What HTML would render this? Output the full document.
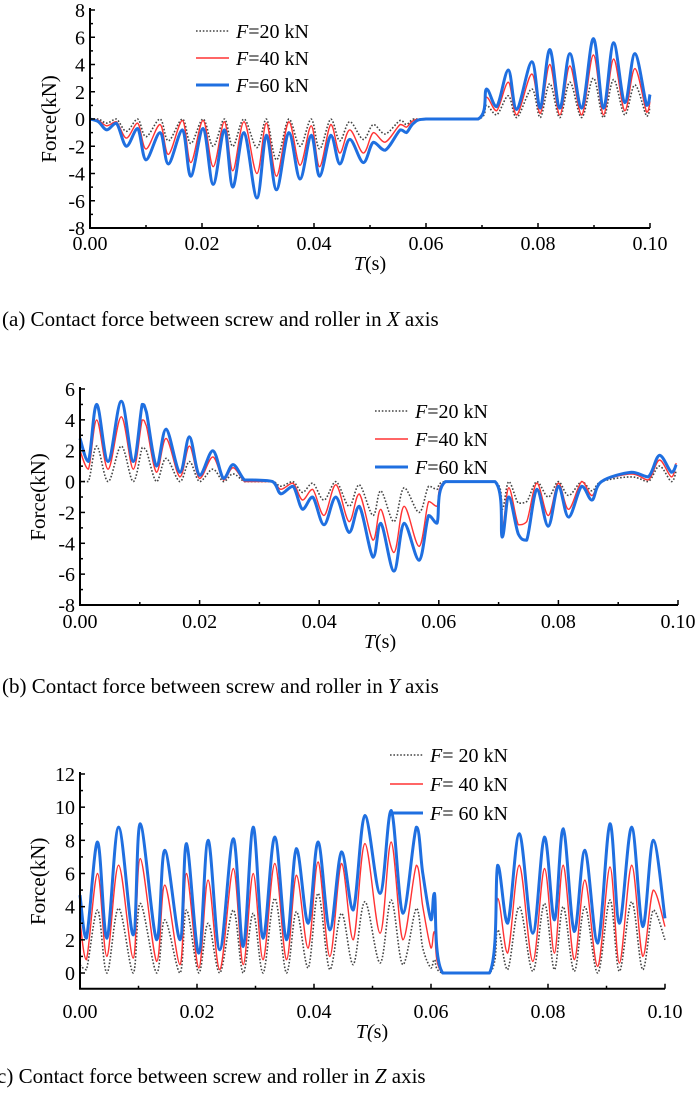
<!DOCTYPE html>
<html><head><meta charset="utf-8"><style>
html,body{margin:0;padding:0;background:#fff;}
svg{display:block;font-family:"Liberation Serif",serif;}
</style></head><body>
<svg id="fig" width="700" height="1103" viewBox="0 0 700 1103" xmlns="http://www.w3.org/2000/svg"></svg>
<script>
// ---- Panel (a) data: time in ms, force in kN ----
const tA = [0,1.5,3,4.7,6.5,8.5,10,12.5,14,16.5,18,20.2,22,24,25.5,27.5,29.8,31.5,33.3,35.5,37.5,39.5,41,43,44.6,46.4,48.8,50.6,52.7,55.4,56.5,57.8,60,69.3,70.8,72.6,74.7,76.2,78.9,80.4,82.1,83.9,85.7,87.8,89.9,91.7,93.5,95.5,97.3,99.4,100];
const a60 = [0,-0.2,-0.8,-0.3,-2,-0.7,-3,-1,-3.3,-0.8,-4.2,-0.7,-4.8,-0.8,-5,-1,-5.8,-1.2,-5.2,-1,-4.4,-1.2,-4.2,-1.2,-3.3,-1.5,-3.2,-1.7,-2.3,-0.8,-1.0,-0.3,0,0,2.2,0.9,3.6,0.7,4.2,0.8,5.1,0.8,4.8,0.8,5.9,0.8,5.6,1.2,4.8,1.0,1.8];
const a40 = [0,-0.1,-0.5,-0.2,-1.4,-0.3,-2.2,-0.4,-2.6,-0.1,-3.2,-0.1,-3.5,-0.2,-3.8,-0.2,-4.0,-0.3,-4.2,-0.2,-3.4,-0.5,-3.5,-0.4,-2.5,-0.8,-2.5,-1.0,-1.7,-0.4,-0.6,-0.1,0,0,1.6,0.6,2.7,0.3,3.3,0.4,4.0,0.3,3.9,0.3,4.7,0.3,4.4,0.6,3.7,0.5,1.3];
const a20 = [0,0,-0.3,0,-0.9,0,-1.3,0,-1.6,0,-1.8,0,-2.0,0,-2.0,0,-2.1,0,-3.0,0,-2.0,0,-2.2,0,-1.6,-0.2,-1.5,-0.4,-1.1,-0.1,-0.4,0,0,0,1.0,0.3,1.7,0.1,2.2,0.1,2.6,0.1,2.7,0.1,3.0,0.1,2.9,0.3,2.5,0.2,0.9];
// ---- Panel (b) data ----
const tB = [0,1.4,2.8,4.7,6.9,8.9,10.4,11.1,12.8,14.4,16.7,18.3,20,22.2,24,25.6,27.5,28.9,32.2,33.6,35.6,37.2,38.9,40.8,42.8,45,46.7,49,50.3,52.5,54.2,56.7,58.3,59.7,61.1,69.4,70.6,71.7,73.3,74.7,76.4,78.3,80,81.7,83.9,85.6,87.2,92.2,95,96.9,98.9,99.7];
const b60 = [2.8,1.3,5.0,1.3,5.2,1.3,5.0,4.5,1.0,3.4,0.6,2.9,0.4,2.0,0.2,1.1,0.1,0.1,0,-0.8,-0.3,-1.8,-1.0,-2.8,-1.0,-3.3,-1.6,-4.9,-2.7,-5.8,-2.7,-5.1,-2.2,-2.7,0,0,-3.6,-1.0,-3.4,-3.8,-0.5,-2.9,-0.3,-2.3,-0.3,-1.2,0,0.6,0.3,1.7,0.6,1.1];
const b40 = [2.0,0.8,4.0,0.8,4.2,0.8,4.0,3.6,0.6,2.8,0.3,2.3,0.2,1.6,0.1,0.9,0,0,0,-0.5,-0.1,-1.2,-0.5,-2.2,-0.2,-2.6,-0.8,-3.8,-1.8,-4.6,-1.6,-4.2,-1.3,-1.6,0,0,-3.0,-0.4,-2.8,-2.6,-0.1,-2.2,-0.1,-1.8,0,-0.9,0,0.5,0.1,1.4,0.3,1.2];
const b20 = [0,0,2.3,0,2.3,0,2.2,2.0,0,1.5,0,1.3,0,0.8,0,0.5,0,0,0,-0.3,0,-0.7,-0.1,-1.2,0,-1.6,-0.2,-2.2,-0.6,-2.6,-0.4,-2.0,-0.3,-0.5,0,0,-1.8,0,-1.4,-1.3,0,-1.0,0,-0.9,0,-0.6,0,0.3,0,1.0,0,0.7];
// ---- Panel (c) data ----
const tC = [0,1.1,3,4.6,6.6,9.1,10.3,13.1,14.5,17.1,18.2,20.3,21.9,23.9,26.2,27.9,29.6,31.3,33.3,35.3,37,39,40.7,42.7,44.7,46.7,48.7,51.3,53.2,55.2,57.5,58.6,60,60.6,62,70,71.4,73.1,75.1,77.4,79.4,81.1,82.6,84.5,86.3,88.5,90.6,92.2,94.3,96.2,98,100];
const c60 = [4.7,2.1,7.9,2.1,8.8,2.3,9.0,2.0,7.4,2.0,7.8,1.2,8.0,1.4,8.1,1.6,8.8,2.1,8.2,2.0,7.5,3.0,7.9,2.6,7.3,3.8,9.5,4.8,9.8,3.6,8.8,6.0,3.2,4.8,0,0,6.5,3.0,8.4,2.4,8.2,3.2,8.7,2.5,7.4,1.8,9.0,3.0,8.8,2.8,8.0,3.3];
const c40 = [3.1,0.8,6.0,1.0,6.5,0.9,6.9,0.7,5.3,0.5,6.0,0.3,5.6,0.2,6.3,0.5,6.0,0.8,6.6,0.8,5.9,1.5,6.7,1.0,6.6,2.0,7.8,2.4,7.9,2.0,6.5,4.0,1.5,2.5,0,0,4.5,1.2,6.5,0.7,6.3,1.2,6.5,0.8,5.6,0.4,6.4,0.6,6.5,1.0,5.0,2.8];
const c20 = [0.5,0.2,3.8,0,3.9,0,4.2,0,3.2,0,3.8,0,3.0,0,3.8,0,3.6,0,4.5,0,3.7,0.3,4.8,0.2,3.6,0.5,4.3,0.6,4.4,0.5,3.9,1.5,0.3,0.8,0,0,2.6,0.2,4.0,0.1,4.2,0.2,4.0,0.1,4.0,0,4.4,0.1,4.3,0.2,3.8,2.0];
const xTicks = ["0.00","0.02","0.04","0.06","0.08","0.10"];
const yTicksA = [8,6,4,2,0,-2,-4,-6,-8];
const yTicksB = [6,4,2,0,-2,-4,-6,-8];
const yTicksC = [12,10,8,6,4,2,0];
const legendA = ["=20 kN","=40 kN","=60 kN"];
const legendC = ["= 20 kN","= 40 kN","= 60 kN"];

const NS="http://www.w3.org/2000/svg";
const svg=document.getElementById('fig');
function mk(tag,attrs,parent){const e=document.createElementNS(NS,tag);for(const k in attrs)e.setAttribute(k,attrs[k]);(parent||svg).appendChild(e);return e;}

function clamp(v,a,b){const lo=Math.min(a,b),hi=Math.max(a,b);return Math.max(lo,Math.min(hi,v));}
// smooth path without overshoot (control points clamped to segment range)
function smoothPath(px,py){
  let d='M'+px[0].toFixed(1)+','+py[0].toFixed(1);
  const n=px.length, k=0.17;
  for(let i=0;i<n-1;i++){
    const x0=px[Math.max(i-1,0)],y0=py[Math.max(i-1,0)];
    const x1=px[i],y1=py[i],x2=px[i+1],y2=py[i+1];
    const x3=px[Math.min(i+2,n-1)],y3=py[Math.min(i+2,n-1)];
    const c1x=x1+(x2-x0)*k, c1y=clamp(y1+(y2-y0)*k,y1,y2);
    const c2x=x2-(x3-x1)*k, c2y=clamp(y2-(y3-y1)*k,y1,y2);
    d+=' C'+c1x.toFixed(1)+','+c1y.toFixed(1)+' '+c2x.toFixed(1)+','+c2y.toFixed(1)+' '+x2.toFixed(1)+','+y2.toFixed(1);
  }
  return d;
}

function panel(P){
  const g=mk('g',{});
  
  
  const xs=t=>P.x0+(t/100)*(P.x1-P.x0);
  const ys=v=>P.yTop+(P.yMax-v)*(P.yBot-P.yTop)/(P.yMax-P.yMin);
  const yAxisBottom=ys(P.axisMin);
  const styles=[
    {d:P.s20,stroke:'#444',w:1.6,dash:'1.6 1.8',n:'series-f20'},
    {d:P.s40,stroke:'#ff3333',w:1.4,dash:null,n:'series-f40'},
    {d:P.s60,stroke:'#1f6fe0',w:3,dash:null,n:'series-f60'}];
  styles.forEach(s=>{
    const pth=mk('path',{d:smoothPath(P.t.map(xs),s.d.map(ys)),fill:'none',stroke:s.stroke,'stroke-width':s.w,'stroke-linejoin':'round'},g);
    if(s.dash)pth.setAttribute('stroke-dasharray',s.dash);
    
    
  });
  const ya=mk('line',{x1:P.x0,y1:P.yTop-2,x2:P.x0,y2:yAxisBottom,stroke:'#000','stroke-width':2},g);
  
  
  const xa=mk('line',{x1:P.x0-1,y1:yAxisBottom,x2:P.x1,y2:yAxisBottom,stroke:'#000','stroke-width':2},g);
  
  
  for(let v=P.yMin;v<=P.yMax;v++){
    const major=(v%2===0);
    mk('line',{x1:P.x0,y1:ys(v),x2:P.x0+(major?5:3),y2:ys(v),stroke:'#000','stroke-width':1.5},g);
  }
  P.yTicks.forEach(v=>{
    const tx=mk('text',{x:P.x0-5,y:ys(v)+7,'text-anchor':'end','font-size':20,fill:'#000'},g);
    tx.textContent=v;
    
    
  });
  for(let i=0;i<=10;i++){
    const x=xs(i*10);
    mk('line',{x1:x,y1:yAxisBottom,x2:x,y2:yAxisBottom-(i%2===0?5:3),stroke:'#000','stroke-width':1.5},g);
  }
  xTicks.forEach((lab,i)=>{
    const tx=mk('text',{x:xs(i*20),y:P.xLabY,'text-anchor':'middle','font-size':20,fill:'#000'},g);
    tx.textContent=lab;
    
    
  });
  const xt=mk('text',{x:P.xTitleX,y:P.xTitleY,'text-anchor':'middle','font-size':20,fill:'#000'},g);
  xt.innerHTML='<tspan font-style="italic">T</tspan>'+P.tSuffix;
  
  
  const yt=mk('text',{x:P.yTitleX,y:(P.yTop+yAxisBottom)/2,'text-anchor':'middle','font-size':21,fill:'#000',transform:`rotate(-90 ${P.yTitleX} ${(P.yTop+yAxisBottom)/2})`},g);
  yt.textContent='Force(kN)';
  
  
  const lg=mk('g',{},g);
  
  
  styles.forEach((s,i)=>{
    const y=P.legY+i*P.legDy;
    const ln=mk('line',{x1:P.legX,y1:y,x2:P.legX+33,y2:y,stroke:s.stroke,'stroke-width':s.w},lg);
    if(s.dash)ln.setAttribute('stroke-dasharray',s.dash);
    const tx=mk('text',{x:P.legX+40,y:y+7,'font-size':20,fill:'#000'},lg);
    tx.innerHTML='<tspan font-style="italic">F</tspan>'+P.legend[i];
    
    
  });
  const cap=mk('text',{x:P.capX,y:P.capY,'font-size':21,fill:'#000'},g);
  cap.innerHTML=P.capPrefix+'Contact force between screw and roller in <tspan font-style="italic">'+P.axisName+'</tspan> axis';
  
  
}

panel({name:'panel-a-x-axis',t:tA,s20:a20,s40:a40,s60:a60,x0:90,x1:650,yTop:10,yBot:228,yMax:8,yMin:-8,axisMin:-8,
  yTicks:yTicksA,xLabY:250,xTitleX:370,xTitleY:270,tSuffix:'(s)',yTitleX:56,legX:196,legY:31,legDy:27,legend:legendA,
  capX:2,capY:326,capPrefix:'(a) ',axisName:'X'});
panel({name:'panel-b-y-axis',t:tB,s20:b20,s40:b40,s60:b60,x0:80,x1:678,yTop:389,yBot:605,yMax:6,yMin:-8,axisMin:-8,
  yTicks:yTicksB,xLabY:628,xTitleX:380,xTitleY:648,tSuffix:'(s)',yTitleX:45,legX:375,legY:411,legDy:28,legend:legendA,
  capX:2,capY:693,capPrefix:'(b) ',axisName:'Y'});
panel({name:'panel-c-z-axis',t:tC,s20:c20,s40:c40,s60:c60,x0:80,x1:665,yTop:774,yBot:973,yMax:12,yMin:0,axisMin:-0.95,
  yTicks:yTicksC,xLabY:1018,xTitleX:372,xTitleY:1038,tSuffix:'<tspan font-style="italic">(</tspan>s)',yTitleX:45,legX:390,legY:755,legDy:29,legend:legendC,
  capX:-3,capY:1083,capPrefix:'c) ',axisName:'Z'});
</script>
</body></html>
